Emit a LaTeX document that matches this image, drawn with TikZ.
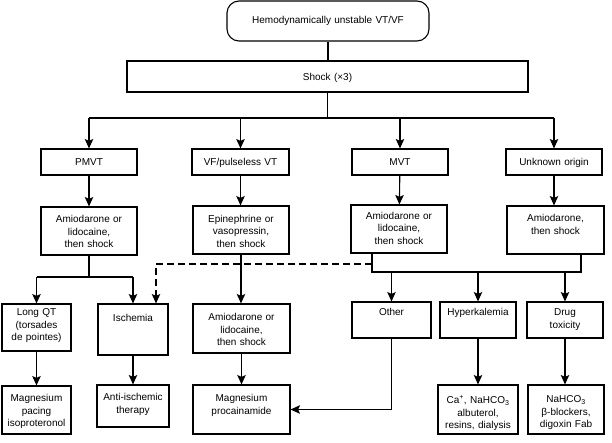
\documentclass[tikz,border=0pt]{standalone}
\usepackage{fontspec}
\setmainfont{Liberation Sans}
\usetikzlibrary{arrows.meta}
\begin{document}
\begin{tikzpicture}[x=1pt,y=-1pt,
  box/.style={draw, line width=1.1pt, inner sep=0pt, align=center, anchor=base, font=\fontsize{10}{12.5}\selectfont},
  ln/.style={line width=1.1pt},
  arr/.style={line width=1.1pt, -{Stealth[length=9.5pt,width=8.5pt,inset=2pt]}},
  dsh/.style={arr, dash pattern=on 7pt off 4pt}]
\useasboundingbox (0,0) rectangle (612,442);
% top
\node[box, rounded corners=12pt, text width=202pt, text height=22pt, text depth=18pt] (top) at (328,23) {Hemodynamically unstable VT/VF};
\node[box, text width=401pt, text height=19pt, text depth=12pt] (shock) at (327.5,80) {Shock (×3)};
% level 1
\node[box, text width=96pt, text height=16pt, text depth=10pt] (pmvt) at (89,165) {PMVT};
\node[box, text width=97pt, text height=16pt, text depth=10pt] (vf) at (240.5,165) {VF/pulseless VT};
\node[box, text width=96pt, text height=16pt, text depth=10pt] (mvt) at (400,165) {MVT};
\node[box, text width=96pt, text height=16pt, text depth=10pt] (unk) at (554,165) {Unknown origin};
% level 2
\node[box, text width=96pt, text height=15.5pt, text depth=32.5pt] (pmvtA) at (89,222.5) {Amiodarone or\\lidocaine,\\then shock};
\node[box, text width=96pt, text height=16pt, text depth=32pt] (epi) at (241,222) {Epinephrine or\\vasopressin,\\then shock};
\node[box, text width=96pt, text height=14pt, text depth=34pt] (mvtA) at (399,219) {Amiodarone or\\lidocaine,\\then shock};
\node[box, text width=97pt, text height=15.5pt, text depth=32.5pt] (unkA) at (555.5,221.5) {Amiodarone,\\then shock};
% level 3
\node[box, text width=69pt, text height=11.5pt, text depth=35.5pt] (longqt) at (36.5,315.5) {Long QT\\(torsades\\de pointes)};
\node[box, text width=70pt, text height=17.5pt, text depth=33.5pt] (isch) at (133,321.5) {Ischemia};
\node[box, text width=97pt, text height=16.5pt, text depth=32.5pt] (vfA) at (241.5,320.5) {Amiodarone or\\lidocaine,\\then shock};
\node[box, text width=79pt, text height=13.5pt, text depth=22.5pt] (other) at (391.5,315.5) {Other};
\node[box, text width=76pt, text height=13.5pt, text depth=22.5pt] (hyper) at (478,315.5) {Hyperkalemia};
\node[box, text width=76pt, text height=13.5pt, text depth=22.5pt] (drug) at (565,315.5) {Drug\\toxicity};
% level 4
\node[box, text width=69pt, text height=15.5pt, text depth=32.5pt] (magpace) at (36.5,401.5) {Magnesium\\pacing\\isoproteronol};
\node[box, text width=72pt, text height=15.5pt, text depth=26.5pt] (antiisch) at (133,400.5) {Anti-ischemic\\therapy};
\node[box, text width=97pt, text height=16.5pt, text depth=32.5pt] (magproc) at (241.5,401.5) {Magnesium\\procainamide};
\node[box, text width=80pt, text height=18.5pt, text depth=30.5pt] (ca) at (478,403.5) {Ca\textsuperscript{+}, NaHCO\textsubscript{3}\\albuterol,\\resins, dialysis};
\node[box, text width=76pt, text height=17.5pt, text depth=31.5pt] (nahco) at (566,402.5) {NaHCO\textsubscript{3}\\β-blockers,\\digoxin Fab};
% helper coordinates
\coordinate (bus) at (0,118);
\coordinate (lbus) at (0,277);
\coordinate (rb) at (0,272);
\coordinate (dj) at (0,264);
\coordinate (mo) at ([xshift=-27pt]mvtA.south);
\coordinate (uo) at ([xshift=25.5pt]unkA.south);
\coordinate (ie) at ([xshift=23pt]isch.north);
% connectors
\draw[ln] (top.south) -- (top.south |- shock.north);
\draw[ln] (shock.south) -- (shock.south |- bus);
\draw[ln] (bus -| pmvt) -- (bus -| unk);
\draw[arr] (bus -| pmvt) -- (pmvt.north);
\draw[arr] (bus -| vf) -- (vf.north);
\draw[arr] (bus -| mvt) -- (mvt.north);
\draw[arr] (bus -| unk) -- (unk.north);
\draw[arr] (pmvt) -- (pmvtA);
\draw[arr] (vf.south) -- (vf.south |- epi.north);
\draw[arr] (mvt) -- (mvtA);
\draw[arr] (unk.south) -- (unk.south |- unkA.north);
\draw[ln] (pmvtA.south) -- (pmvtA.south |- lbus);
\draw[ln] (lbus -| longqt) -- (lbus -| isch);
\draw[arr] (lbus -| longqt) -- (longqt.north);
\draw[arr] (lbus -| isch) -- (isch.north);
\draw[arr] (epi.south) -- (epi.south |- vfA.north);
\draw[ln] (mo) |- (uo |- rb) -- (uo);
\draw[dsh] (mo |- dj) -| (ie);
\draw[arr] (rb -| other) -- (other.north);
\draw[arr] (rb -| hyper) -- (hyper.north);
\draw[arr] (rb -| drug) -- (drug.north);
\draw[arr] (longqt) -- (magpace);
\draw[arr] (isch) -- (antiisch);
\draw[arr] (vfA) -- (magproc);
\draw[arr] (hyper) -- (ca);
\draw[arr] (drug.south) -- (drug.south |- nahco.north);
\draw[arr] (other.south) |- (magproc.east);
\end{tikzpicture}
\end{document}
